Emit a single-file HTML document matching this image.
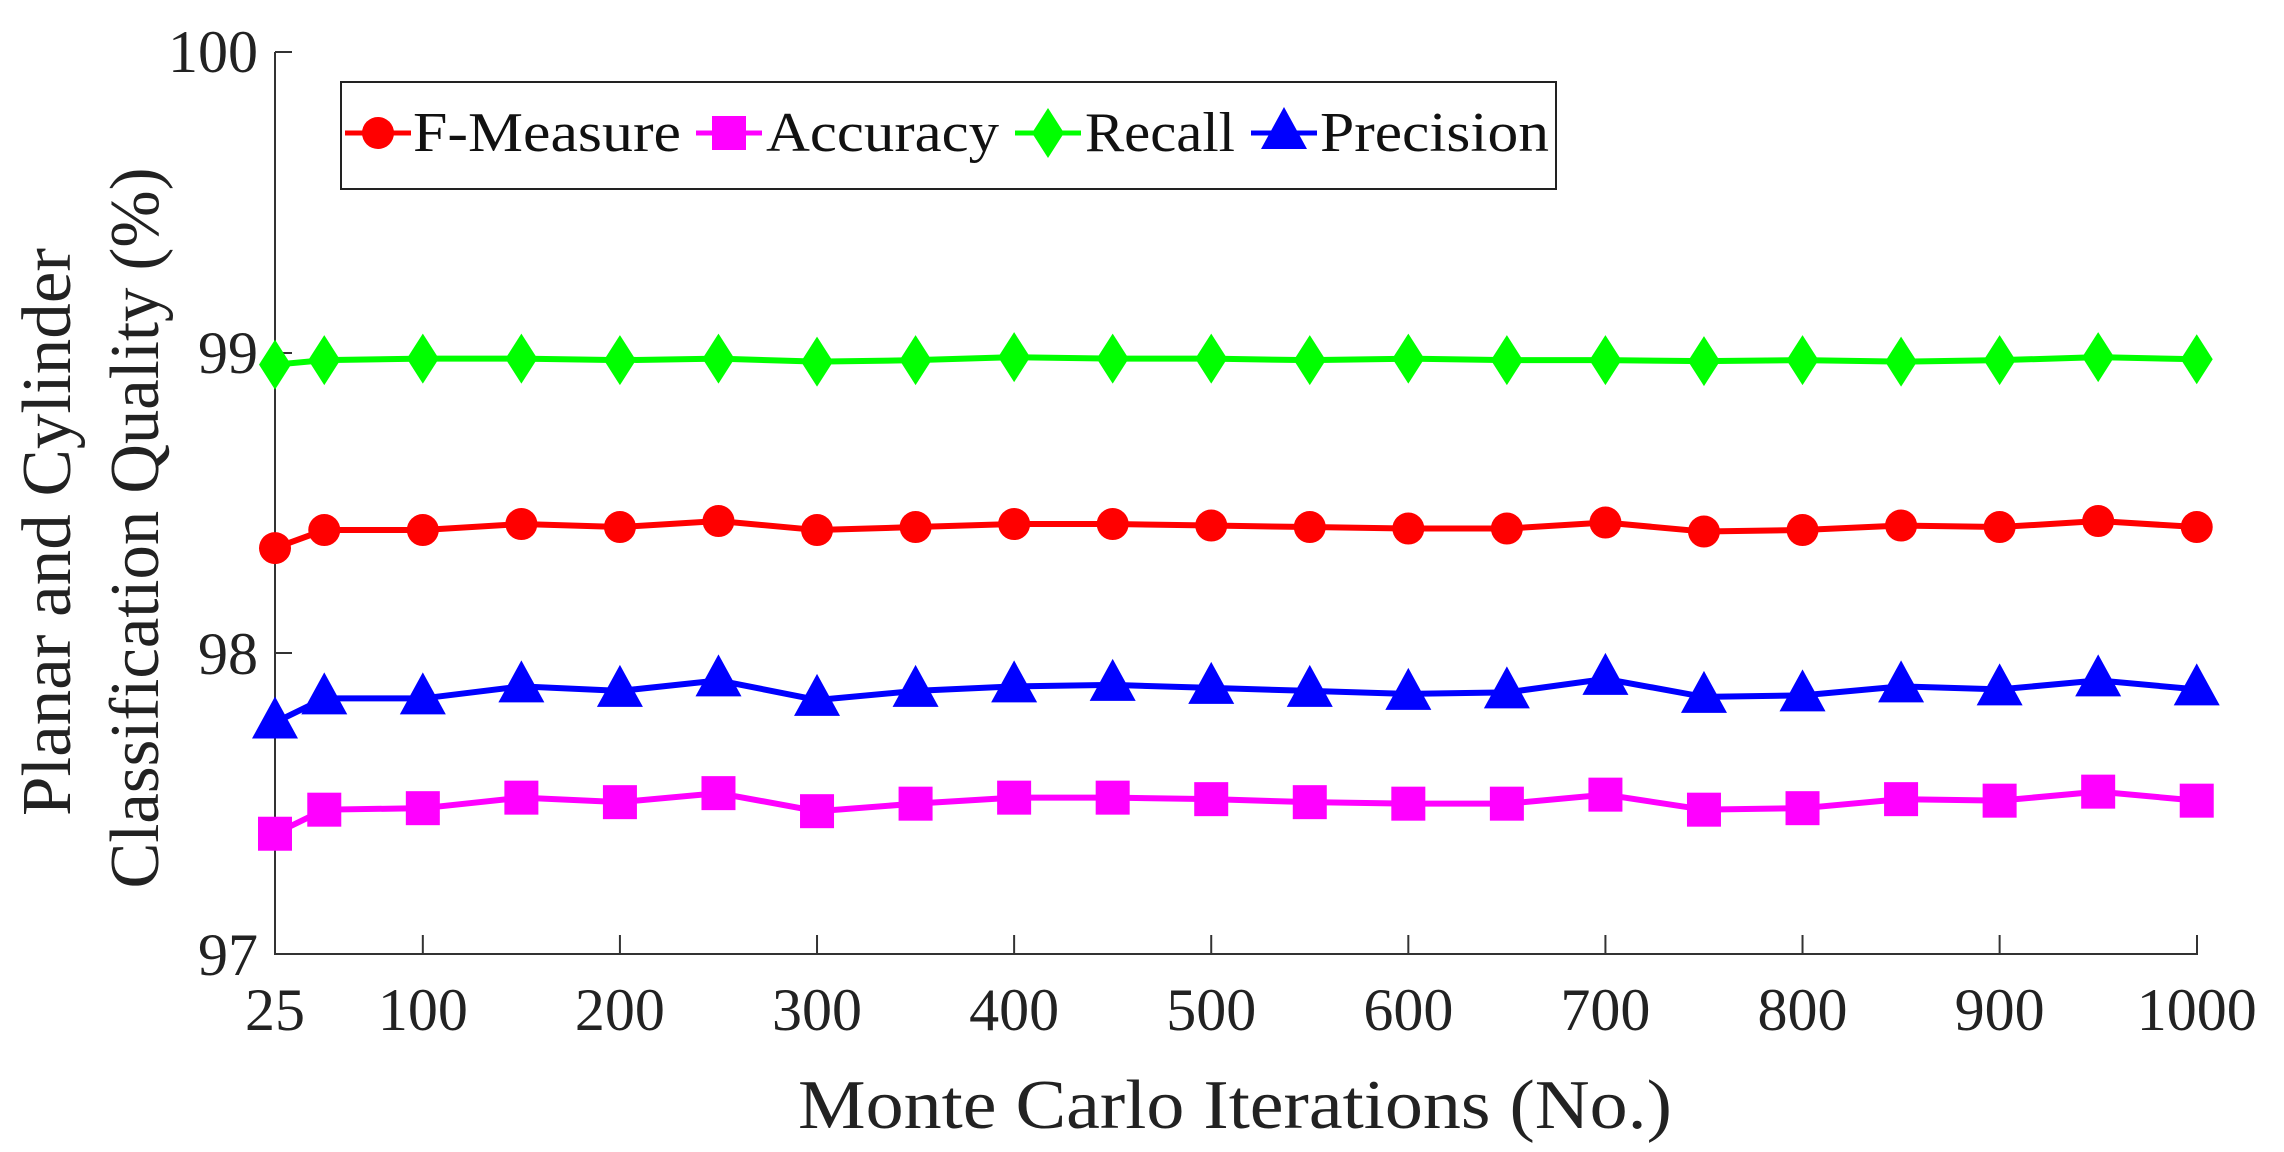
<!DOCTYPE html>
<html><head><meta charset="utf-8"><style>
html,body{margin:0;padding:0;background:#fff;}
svg{display:block;font-family:"Liberation Serif",serif;}
</style></head><body>
<svg id="s" width="2284" height="1152" viewBox="0 0 2284 1152" xmlns="http://www.w3.org/2000/svg">
<defs>
<circle id="mc" r="16" fill="#ff0000"/>
<rect id="ms" x="-17" y="-17" width="34" height="34" fill="#ff00ff"/>
<polygon id="md" points="0,-25 16,0 0,25 -16,0" fill="#00ff00"/>
<polygon id="mt" points="0,-26 23,16 -23,16" fill="#0000ff"/>
</defs>
<g stroke="#333" stroke-width="2" fill="none">
<path d="M275,52 V954 H2197 V935"/>
<path d="M275,52 H292 M275,353 H292 M275,653 H292"/>
</g>
<g id="xt" stroke="#333" stroke-width="2"></g>
<g font-size="60" fill="#222" text-anchor="end">
<text x="258" y="72">100</text>
<text x="258" y="373">99</text>
<text x="258" y="674">98</text>
<text x="258" y="975">97</text>
</g>
<g id="xl" font-size="60" fill="#222" text-anchor="middle"></g>
<text x="1235" y="1128" font-size="70" fill="#222" text-anchor="middle" textLength="874" lengthAdjust="spacingAndGlyphs">Monte Carlo Iterations (No.)</text>
<text transform="translate(70,532) rotate(-90)" font-size="70" fill="#222" text-anchor="middle" textLength="568" lengthAdjust="spacingAndGlyphs">Planar and Cylinder</text>
<text transform="translate(158,528) rotate(-90)" font-size="70" fill="#222" text-anchor="middle" textLength="721" lengthAdjust="spacingAndGlyphs">Classification Quality (%)</text>
<g id="plot"></g>
<rect x="341" y="82" width="1215" height="107" fill="#fff" stroke="#222" stroke-width="2"/>
<g stroke-width="5">
<line x1="345" y1="133" x2="411" y2="133" stroke="#ff0000"/><use href="#mc" x="378" y="133"/>
<line x1="696" y1="133" x2="762" y2="133" stroke="#ff00ff"/><use href="#ms" x="729" y="133"/>
<line x1="1015" y1="133" x2="1081" y2="133" stroke="#00ff00"/><use href="#md" x="1048" y="133"/>
<line x1="1251" y1="133" x2="1317" y2="133" stroke="#0000ff"/><use href="#mt" x="1284" y="133"/>
</g>
<g font-size="56" fill="#111">
<text x="413" y="151" textLength="268" lengthAdjust="spacingAndGlyphs">F-Measure</text>
<text x="766" y="151" textLength="233" lengthAdjust="spacingAndGlyphs">Accuracy</text>
<text x="1085" y="151" textLength="150" lengthAdjust="spacingAndGlyphs">Recall</text>
<text x="1320" y="151" textLength="229" lengthAdjust="spacingAndGlyphs">Precision</text>
</g>
</svg>
<script>
var NS="http://www.w3.org/2000/svg";
var n=[25,50];for(var k=100;k<=1000;k+=50)n.push(k);
function X(v){return 275+(v-25)*1.971;}
function Y(v){return 954-(v-97)*300.67;}
var xt=document.getElementById('xt'),xl=document.getElementById('xl');
for(var t=100;t<=900;t+=100){var l=document.createElementNS(NS,'line');l.setAttribute('x1',X(t));l.setAttribute('x2',X(t));l.setAttribute('y1',954);l.setAttribute('y2',935);xt.appendChild(l);}
[25,100,200,300,400,500,600,700,800,900,1000].forEach(function(t){var e=document.createElementNS(NS,'text');e.setAttribute('x',X(t));e.setAttribute('y',1030);e.textContent=t;xl.appendChild(e);});
var S=[
["#00ff00","#md",[98.96,98.975,98.98,98.98,98.975,98.98,98.97,98.975,98.985,98.98,98.98,98.975,98.98,98.975,98.975,98.972,98.975,98.97,98.975,98.985,98.978]],
["#ff0000","#mc",[98.35,98.41,98.41,98.43,98.42,98.44,98.41,98.42,98.43,98.43,98.425,98.42,98.415,98.415,98.435,98.405,98.41,98.425,98.42,98.44,98.42]],
["#0000ff","#mt",[97.77,97.85,97.85,97.89,97.875,97.91,97.845,97.875,97.89,97.895,97.885,97.875,97.865,97.87,97.915,97.855,97.86,97.89,97.88,97.91,97.88]],
["#ff00ff","#ms",[97.40,97.48,97.485,97.52,97.505,97.535,97.475,97.50,97.52,97.52,97.515,97.505,97.50,97.50,97.53,97.48,97.485,97.515,97.51,97.54,97.51]]];
var p=document.getElementById('plot');
S.forEach(function(s){var pts=s[2].map(function(v,i){return X(n[i])+','+Y(v);}).join(' ');
var pl=document.createElementNS(NS,'polyline');pl.setAttribute('points',pts);pl.setAttribute('fill','none');pl.setAttribute('stroke',s[0]);pl.setAttribute('stroke-width','6');p.appendChild(pl);
s[2].forEach(function(v,i){var u=document.createElementNS(NS,'use');u.setAttribute('href',s[1]);u.setAttribute('x',X(n[i]));u.setAttribute('y',Y(v));p.appendChild(u);});});
</script>
</body></html>
